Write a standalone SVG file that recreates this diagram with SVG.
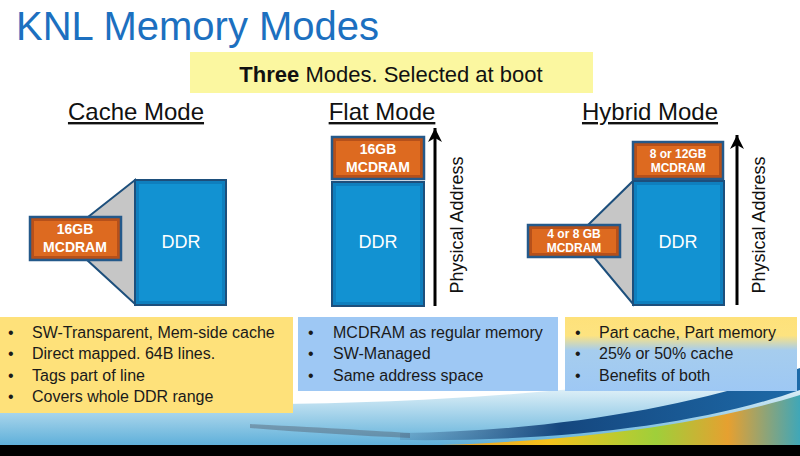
<svg xmlns="http://www.w3.org/2000/svg" width="800" height="456" viewBox="0 0 800 456">
<defs>
<style>
.t{font-family:"Liberation Sans",Arial,sans-serif}
.title{font-size:40px;fill:#1c70c0}
.hdr{font-size:24px;fill:#111;text-decoration:underline}
.ddr{stroke:#1d4f7c;stroke-width:2;fill:#0f7fbe}
.ddri{fill:#1292d2}
.mc{stroke:#24598a;stroke-width:2.5;fill:#b6501a}
.mci{fill:#dd6a20}
.ddrt{font-size:18px;fill:#fff;text-anchor:middle}
.mct{font-size:14px;font-weight:bold;fill:#fff;text-anchor:middle}
.mcs{font-size:12px;font-weight:bold;fill:#fff;text-anchor:middle}
.trap{fill:#c6c6c6;stroke:#1d4f7c;stroke-width:2}
.pa{font-size:18px;fill:#111;text-anchor:middle}
.bl{font-size:16px;fill:#1a1a1a}
.ax{stroke:#000;stroke-width:3;fill:none}
</style>
<marker id="ah" markerWidth="16" markerHeight="16" refX="14" refY="7" orient="auto" markerUnits="userSpaceOnUse">
<path d="M0,0 L14,7 L0,14 L4,7 Z" fill="#000"/>
</marker>
<linearGradient id="mix" x1="0" y1="0" x2="0" y2="1">
<stop offset="0" stop-color="#fee17a"/>
<stop offset="0.25" stop-color="#fde380"/>
<stop offset="0.45" stop-color="#a6cdee"/>
<stop offset="1" stop-color="#9ec8f4"/>
</linearGradient>
<linearGradient id="sea" x1="0" y1="0" x2="0" y2="1">
<stop offset="0" stop-color="#ffffff" stop-opacity="0"/>
<stop offset="0.4" stop-color="#d3eaf5"/>
<stop offset="1" stop-color="#5fb0da"/>
</linearGradient>
<linearGradient id="chip" x1="0" y1="0" x2="1" y2="0">
<stop offset="0" stop-color="#e89a2a"/>
<stop offset="0.3" stop-color="#f4c21c"/>
<stop offset="0.6" stop-color="#9fcf3a"/>
<stop offset="0.8" stop-color="#e6a030"/>
<stop offset="1" stop-color="#3fa7b8"/>
</linearGradient>
<linearGradient id="swoosh" x1="0" y1="0" x2="1" y2="0">
<stop offset="0" stop-color="#3a5f86" stop-opacity="0.2"/>
<stop offset="0.4" stop-color="#15477f"/>
<stop offset="1" stop-color="#1d6aa8"/>
</linearGradient>
</defs>
<rect width="800" height="456" fill="#fff"/>

<g id="background">
<path d="M0,405 C200,400 420,420 800,360 L800,445 L0,445 Z" fill="url(#sea)"/>
<path d="M250,424 C330,428 380,431 410,433 L410,438 C360,436 300,432 250,428 Z" fill="#55606e" opacity="0.45"/>
<path d="M400,433 C560,431 700,405 800,368 L800,390 C700,425 560,442 400,440 Z" fill="url(#swoosh)"/>
<path d="M440,445 C600,440 720,420 800,395 L800,445 Z" fill="url(#chip)"/>
<rect x="0" y="445" width="800" height="11" fill="#000"/>
</g>

<g id="title">
<text class="t title" x="16" y="40">KNL Memory Modes</text>
</g>

<g id="banner">
<rect x="190" y="52" width="403" height="41" fill="#fbf7a0"/>
<text class="t" x="391" y="82" font-size="22" fill="#111" text-anchor="middle"><tspan font-weight="bold">Three</tspan> Modes. Selected at boot</text>
</g>

<g id="cache-mode">
<text class="t hdr" x="136" y="120" text-anchor="middle">Cache Mode</text>
<path class="trap" d="M88,217 L135,180 L135,304 L86,259 Z"/>
<rect class="ddr" x="135" y="180" width="91" height="125"/>
<rect class="ddri" x="139" y="184" width="83" height="117"/>
<text class="t ddrt" x="181" y="248">DDR</text>
<rect class="mc" x="30" y="217" width="91" height="43"/>
<rect class="mci" x="34" y="221" width="83" height="35"/>
<text class="t mct" x="75" y="234">16GB</text>
<text class="t mct" x="75" y="252">MCDRAM</text>
</g>

<g id="flat-mode">
<text class="t hdr" x="382" y="120" text-anchor="middle">Flat Mode</text>
<rect class="mc" x="332" y="137" width="92" height="42"/>
<rect class="mci" x="336" y="141" width="84" height="34"/>
<text class="t mct" x="378" y="154">16GB</text>
<text class="t mct" x="378" y="172">MCDRAM</text>
<rect class="ddr" x="332" y="182" width="92" height="124"/>
<rect class="ddri" x="336" y="186" width="84" height="116"/>
<text class="t ddrt" x="378" y="248">DDR</text>
</g>

<g id="hybrid-mode">
<text class="t hdr" x="650" y="120" text-anchor="middle">Hybrid Mode</text>
<path class="trap" d="M588,225 L633,181 L633,304 L593,256 Z"/>
<rect class="mc" x="633" y="142" width="90" height="37"/>
<rect class="mci" x="637" y="146" width="82" height="29"/>
<text class="t mcs" x="678" y="158">8 or 12GB</text>
<text class="t mcs" x="678" y="172">MCDRAM</text>
<rect class="ddr" x="633" y="181" width="91" height="124"/>
<rect class="ddri" x="637" y="185" width="83" height="116"/>
<text class="t ddrt" x="678" y="248">DDR</text>
<rect class="mc" x="528" y="225" width="92" height="32"/>
<rect class="mci" x="532" y="229" width="84" height="24"/>
<text class="t mcs" x="574" y="238">4 or 8 GB</text>
<text class="t mcs" x="574" y="252">MCDRAM</text>
</g>

<g id="connectors">
<line class="ax" x1="435" y1="306" x2="435" y2="128" marker-end="url(#ah)"/>
<line class="ax" x1="737" y1="305" x2="737" y2="135" marker-end="url(#ah)"/>
</g>

<g id="axis-labels">
<text class="t pa" transform="translate(463,225) rotate(-90)">Physical Address</text>
<text class="t pa" transform="translate(765,225) rotate(-90)">Physical Address</text>
</g>

<g id="cache-notes">
<rect x="0" y="317" width="293" height="96" fill="#fee17a"/>
<g class="t bl">
<text x="8" y="338">•</text><text x="32" y="338">SW-Transparent, Mem-side cache</text>
<text x="8" y="359">•</text><text x="32" y="359">Direct mapped. 64B lines.</text>
<text x="8" y="381">•</text><text x="32" y="381">Tags part of line</text>
<text x="8" y="402">•</text><text x="32" y="402">Covers whole DDR range</text>
</g>
</g>

<g id="flat-notes">
<rect x="298" y="317" width="260" height="74" fill="#9ec8f4"/>
<g class="t bl">
<text x="308" y="338">•</text><text x="333" y="338">MCDRAM as regular memory</text>
<text x="308" y="359">•</text><text x="333" y="359">SW-Managed</text>
<text x="308" y="381">•</text><text x="333" y="381">Same address space</text>
</g>
</g>

<g id="hybrid-notes">
<rect x="565" y="317" width="232" height="74" fill="url(#mix)"/>
<g class="t bl">
<text x="575" y="338">•</text><text x="599" y="338">Part cache, Part memory</text>
<text x="575" y="359">•</text><text x="599" y="359">25% or 50% cache</text>
<text x="575" y="381">•</text><text x="599" y="381">Benefits of both</text>
</g>
</g>
</svg>
